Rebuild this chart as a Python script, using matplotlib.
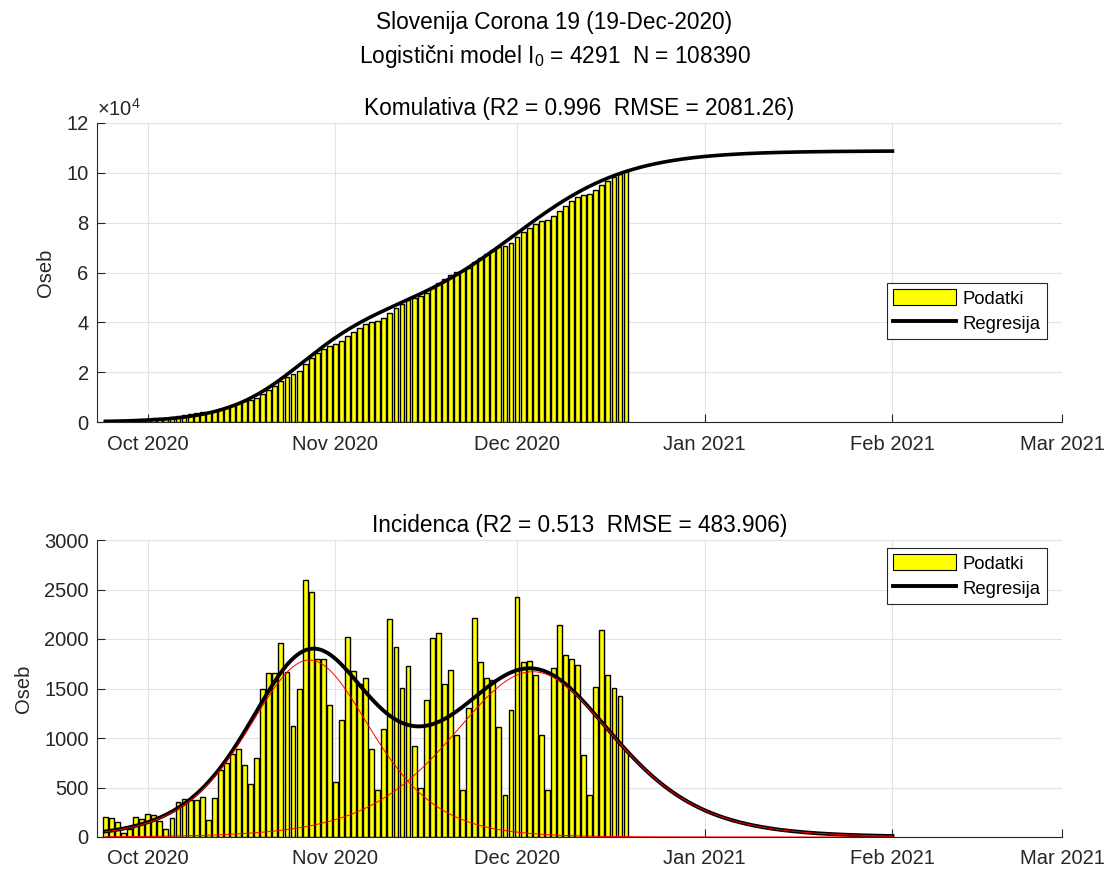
import numpy as np
import matplotlib
matplotlib.use("Agg")
import matplotlib.pyplot as plt
import matplotlib.dates as mdates
from matplotlib.ticker import FixedLocator, FuncFormatter
from matplotlib.lines import Line2D
from matplotlib.patches import Patch

plt.rcParams['font.family'] = ['Liberation Sans', 'DejaVu Sans']

# ---------------- data ----------------
first_day = "2020-09-24"
daily_cases = [
    197, 187, 153, 45, 77, 207, 177,                                   # Sep 24-30
    237, 223, 163, 77, 187, 357, 383, 377, 377, 403,                   # Oct 1-10
    167, 397, 680, 750, 835, 893, 723, 533, 797, 1497,                 # Oct 11-20
    1653, 1653, 1957, 1663, 1120, 1497, 2597, 2477, 1797, 1797, 1337,  # Oct 21-31
    560, 1177, 2023, 1680, 1550, 1603, 887, 470, 1087, 2203,           # Nov 1-10
    1917, 1507, 1727, 917, 497, 1387, 2007, 2057, 1547, 1687,          # Nov 11-20
    1030, 470, 1300, 2213, 1767, 1603, 1587, 1107, 427, 1283,          # Nov 21-30
    2427, 1767, 1777, 1637, 1030, 477, 1703, 2137, 1843, 1803,         # Dec 1-10
    1733, 827, 427, 1513, 2093, 1633, 1503, 1423, 883,                 # Dec 11-19
]
model_end = "2021-02-01"

# logistic regression of the cumulative series (two components)
cum_N = [43000, 65800]
cum_k = [0.165, 0.108]
cum_mid = ["2020-10-26T00:00", "2020-12-01T00:00"]

# incidence model (two logistic components)
inc_N = [49300, 60700]
inc_k = [0.145, 0.110]
inc_mid = ["2020-10-27T17:00", "2020-12-03T14:00"]

suptitle_1 = "Slovenija Corona 19 (19-Dec-2020)"
suptitle_2 = "Logistični model I$_\\mathregular{0}$ = 4291  N = 108390"
title_cum = "Komulativa (R2 = 0.996  RMSE = 2081.26)"
title_inc = "Incidenca (R2 = 0.513  RMSE = 483.906)"
ylabel = "Oseb"
legend_labels = ["Podatki", "Regresija"]
month_ticks = ["2020-10-01", "2020-11-01", "2020-12-01", "2021-01-01", "2021-02-01", "2021-03-01"]
month_labels = ["Oct 2020", "Nov 2020", "Dec 2020", "Jan 2021", "Feb 2021", "Mar 2021"]
cum_yticks = [0, 20000, 40000, 60000, 80000, 100000, 120000]
inc_yticks = [0, 500, 1000, 1500, 2000, 2500, 3000]

# ---------------- derived ----------------
x0 = mdates.date2num(np.datetime64(first_day))
x_days = x0 + np.arange(len(daily_cases))
cumulative = np.cumsum(daily_cases)

t_model = np.arange(x0, mdates.date2num(np.datetime64(model_end)) + 0.01, 0.25)

def logistic(t, N, k, mid):
    return N / (1.0 + np.exp(-k * (t - mid)))

def logistic_rate(t, N, k, mid):
    e = np.exp(-k * (t - mid))
    return N * k * e / (1.0 + e) ** 2

cum_model = sum(logistic(t_model, N, k, mdates.date2num(np.datetime64(m)))
                for N, k, m in zip(cum_N, cum_k, cum_mid))
inc_parts = [logistic_rate(t_model, N, k, mdates.date2num(np.datetime64(m)))
             for N, k, m in zip(inc_N, inc_k, inc_mid)]
inc_model = inc_parts[0] + inc_parts[1]

# ---------------- figure ----------------
W, H = 1109, 869
fig = plt.figure(figsize=(W / 100, H / 100), dpi=100)
axc = fig.add_axes([97 / W, 1 - 422 / H, 965 / W, 299 / H])
axi = fig.add_axes([97 / W, 1 - 837 / H, 965 / W, 297 / H])

dark = '#262626'
xlim = (mdates.date2num(np.datetime64("2020-09-22T15:00")),
        mdates.date2num(np.datetime64("2021-03-01")))
xt = [mdates.date2num(np.datetime64(d)) for d in month_ticks]

def style(ax, yticks):
    ax.set_xlim(*xlim)
    ax.xaxis.set_major_locator(FixedLocator(xt))
    ax.set_xticklabels(month_labels)
    ax.set_yticks(yticks)
    ax.set_axisbelow(True)
    ax.grid(True, color='#e3e3e3', linewidth=0.8)
    for s in ['top', 'right']:
        ax.spines[s].set_visible(False)
    for s in ['left', 'bottom']:
        ax.spines[s].set_color(dark)
        ax.spines[s].set_linewidth(0.8)
    ax.tick_params(direction='in', length=6, width=0.8, colors=dark,
                   labelsize=14.5, top=False, right=False)
    ax.tick_params(axis='x', pad=9)
    ax.tick_params(axis='y', pad=6)
    ax.set_ylabel(ylabel, fontsize=14.5, color=dark, labelpad=8)

# cumulative
bars_c = axc.bar(x_days, cumulative, width=0.8, color='#ffff00',
                 edgecolor='black', linewidth=1.0, zorder=2)
lc, = axc.plot(t_model, cum_model, color='black', linewidth=2.6, zorder=3)
style(axc, cum_yticks)
axc.set_ylim(0, 120000)
axc.yaxis.set_major_formatter(FuncFormatter(lambda v, p: f"{v / 1e4:g}"))
axc.text(0.0, 1.012, "×10$^\\mathregular{4}$", transform=axc.transAxes,
         fontsize=14.5, color=dark, ha='left', va='bottom')
axc.set_title(title_cum, fontsize=16.3, pad=6)

# incidence
bars_i = axi.bar(x_days, daily_cases, width=0.8, color='#ffff00',
                 edgecolor='black', linewidth=1.0, zorder=2)
li, = axi.plot(t_model, inc_model, color='black', linewidth=2.8, zorder=3)
for part in inc_parts:
    axi.plot(t_model, part, color='red', linewidth=0.7, zorder=4)
style(axi, inc_yticks)
axi.set_ylim(0, 3000)
axi.set_title(title_inc, fontsize=16.3, pad=6)

handles = [Patch(facecolor='#ffff00', edgecolor='black', linewidth=0.8),
           Line2D([], [], color='black', linewidth=2.8)]
for ax, ytop in [(axc, (422 - 283) / 299), (axi, (837 - 548) / 297)]:
    leg = ax.legend(handles, legend_labels, loc='upper right',
                    bbox_to_anchor=(0.9845, ytop), fontsize=13.3,
                    handlelength=3.4, handleheight=0.95, handletextpad=0.35,
                    borderpad=0.35, labelspacing=0.35, fancybox=False,
                    framealpha=1, edgecolor=dark, borderaxespad=0)
    leg.get_frame().set_linewidth(0.8)

fig.text(0.5, 1 - 23 / H, suptitle_1, ha='center', va='center', fontsize=16.3)
fig.text(0.5, 1 - 56 / H, suptitle_2, ha='center', va='center', fontsize=16.3)

fig.savefig("out.png", dpi=100)
